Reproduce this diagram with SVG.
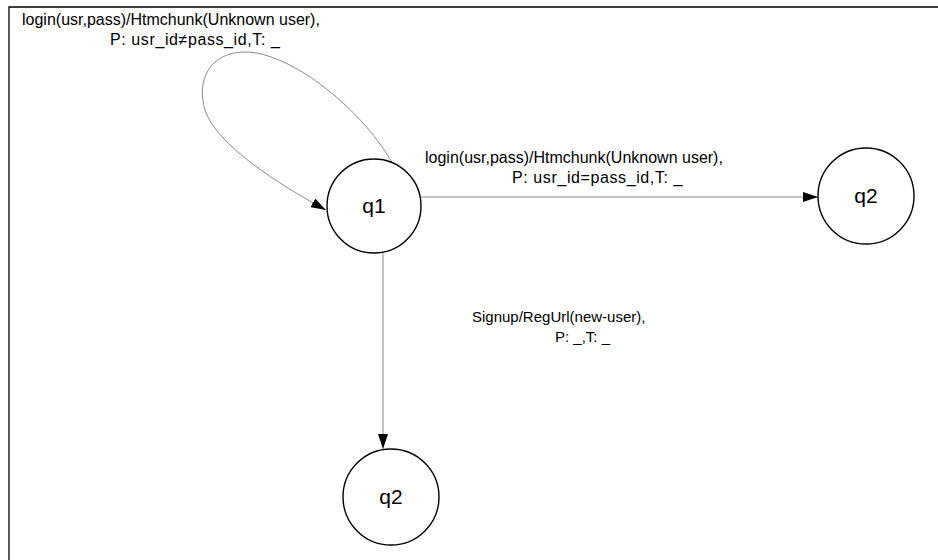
<svg xmlns="http://www.w3.org/2000/svg" width="938" height="560" viewBox="0 0 938 560">
<defs>
<style>
.frame{stroke:#000;stroke-width:1.3;fill:none}
.state{fill:#fff;stroke:#000;stroke-width:1.4}
.edge{fill:none;stroke:#8a8a8a;stroke-width:1}
.lbl{font-family:"Liberation Sans",Arial,sans-serif;font-size:16px;fill:#000}
.lbs{font-family:"Liberation Sans",Arial,sans-serif;font-size:15px;fill:#000}
.sl{font-family:"Liberation Sans",Arial,sans-serif;font-size:21px;fill:#000;text-anchor:middle}
</style>
<marker id="ah" viewBox="0 0 15 10" refX="15" refY="5" markerWidth="15" markerHeight="10" markerUnits="userSpaceOnUse" orient="auto">
<path d="M0,0 L15,5 L0,10 Z" fill="#000"/>
</marker>
</defs>
<rect width="938" height="560" fill="#fff"/>
<path class="frame" d="M9,560 L9,7 L938,7"/>
<g id="connectors">
<path class="edge" d="M394,166 C365,112 292,52 245,52 C210,52 196,80 205,110 C216,145 280,185 326,210" marker-end="url(#ah)"/>
<path class="edge" d="M421,197 L818,197" marker-end="url(#ah)"/>
<path class="edge" d="M383,253 L383,449" marker-end="url(#ah)"/>
</g>
<g id="labels">
<text class="lbl" x="22" y="25">login(usr,pass)/Htmchunk(Unknown user),</text>
<text class="lbl" x="110" y="45" letter-spacing="0.6">P: usr_id≠pass_id,T: _</text>
<text class="lbl" x="425" y="163">login(usr,pass)/Htmchunk(Unknown user),</text>
<text class="lbl" x="512" y="183" letter-spacing="0.6">P: usr_id=pass_id,T: _</text>
<text class="lbs" x="472" y="322">Signup/RegUrl(new-user),</text>
<text class="lbs" x="555" y="342">P: _,T: _</text>
</g>
<g id="q1">
<circle class="state" cx="374" cy="206" r="47"/>
<text class="sl" x="374" y="213">q1</text>
</g>
<g id="q2a">
<circle class="state" cx="866" cy="196" r="48"/>
<text class="sl" x="866" y="203">q2</text>
</g>
<g id="q2b">
<circle class="state" cx="391" cy="497" r="48"/>
<text class="sl" x="391" y="504">q2</text>
</g>
</svg>
